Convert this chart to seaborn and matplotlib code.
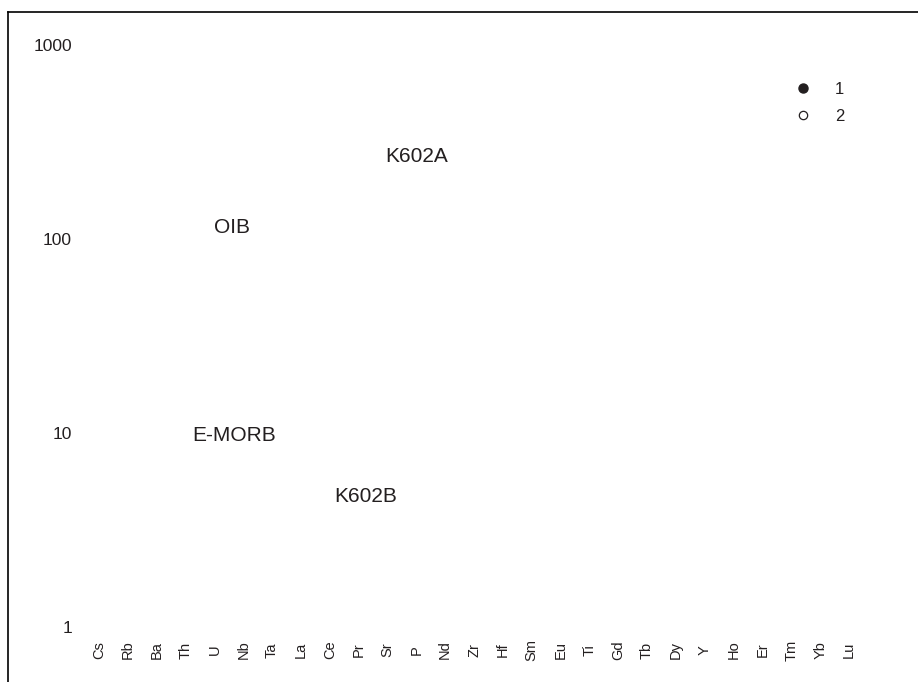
import matplotlib
matplotlib.use("Agg")
import matplotlib.pyplot as plt
from matplotlib.lines import Line2D
import seaborn as sns
import pandas as pd

# Spider diagram frame: elements on x, normalized concentration (log) on y
elements = ["Cs", "Rb", "Ba", "Th", "U", "Nb", "Ta", "La", "Ce", "Pr", "Sr", "P",
            "Nd", "Zr", "Hf", "Sm", "Eu", "Ti", "Gd", "Tb", "Dy", "Y", "Ho",
            "Er", "Tm", "Yb", "Lu"]
y_ticks = [1, 10, 100, 1000]
y_tick_labels = ["1", "10", "100", "1000"]

# Field labels and where they sit (element index, value)
field_names = ["K602A", "OIB", "E-MORB", "K602B"]
field_x = [11.0, 4.6, 4.7, 9.25]
field_y = [265, 114, 9.7, 4.7]

legend_labels = ["1", "2"]

ink = "#231f20"

sns.set_style("white")
plt.rcParams["font.family"] = ["Liberation Sans", "DejaVu Sans"]

fig = plt.figure(figsize=(9.18, 6.82), dpi=100)
W, H = 918, 682
ax = fig.add_axes([8 / W, 0, (W - 8) / W, (H - 12) / H])

# empty frame, drawn through seaborn so the categorical axis is set up
frame = pd.DataFrame({"element": elements, "value": [float("nan")] * len(elements)})
sns.scatterplot(data=frame, x="element", y="value", ax=ax)

ax.set_yscale("log")
ax.set_ylim(10 ** -0.283, 10 ** 3.17)
ax.set_xlim(-3.155, 28.39)

ax.set_yticks(y_ticks)
ax.set_yticklabels(y_tick_labels)
ax.yaxis.set_minor_locator(matplotlib.ticker.NullLocator())
ax.set_xticks(range(len(elements)))
ax.set_xticklabels(elements, rotation=90)

ax.tick_params(axis="y", length=0, pad=-46, labelsize=12.5, labelcolor=ink)
ax.tick_params(axis="x", length=0, pad=-23, labelsize=10.5, labelcolor=ink)
for lab in ax.get_yticklabels():
    lab.set_horizontalalignment("right")
for lab in ax.get_xticklabels():
    lab.set_verticalalignment("center")

ax.set_xlabel("")
ax.set_ylabel("")

for side in ["right", "bottom"]:
    ax.spines[side].set_visible(False)
for side in ["left", "top"]:
    ax.spines[side].set_color("black")
    ax.spines[side].set_linewidth(1.2)

for name, x, y in zip(field_names, field_x, field_y):
    ax.text(x, y, name, ha="center", va="center", fontsize=15, color=ink)

handles = [
    Line2D([], [], marker="o", linestyle="none", markersize=6.5,
           markerfacecolor=ink, markeredgecolor=ink),
    Line2D([], [], marker="o", linestyle="none", markersize=6,
           markerfacecolor="white", markeredgecolor=ink, markeredgewidth=0.9),
]
leg = ax.legend(handles, legend_labels, loc="upper left",
                bbox_to_anchor=(795 / W, 1 - 82 / H), bbox_transform=fig.transFigure,
                frameon=False, fontsize=12, borderpad=0, borderaxespad=0,
                handlelength=1.0, handletextpad=1.4, labelspacing=0.72)
for t in leg.get_texts():
    t.set_color(ink)

fig.savefig("out.png", dpi=100)
